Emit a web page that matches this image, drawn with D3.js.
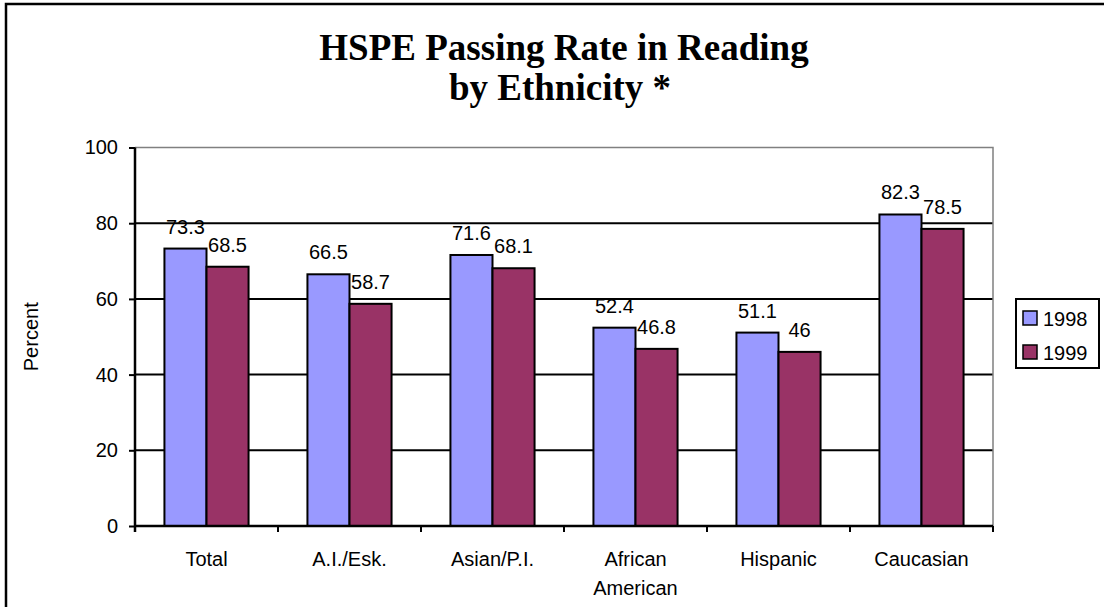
<!DOCTYPE html>
<html>
<head>
<meta charset="utf-8">
<script src="https://cdn.jsdelivr.net/npm/d3@7"></script>
<style>
  html, body { margin: 0; padding: 0; background: #fff; }
  svg { display: block; }
</style>
</head>
<body>
<div id="chart"></div>
<script>
// Données
const categories = ["Total", "A.I./Esk.", "Asian/P.I.", "African\nAmerican", "Hispanic", "Caucasian"];
const series = ["1998", "1999"];
const values1998 = [73.3, 66.5, 71.6, 52.4, 51.1, 82.3];
const values1999 = [68.5, 58.7, 68.1, 46.8, 46, 78.5];
const yTicks = [0, 20, 40, 60, 80, 100];

const colors = { "1998": "#9999FF", "1999": "#993366" };

const width = 1104;
const height = 607;
const plot = { left: 135, right: 993, top: 147.5, bottom: 526 };

const svg = d3.select("#chart")
  .append("svg")
  .attr("width", width)
  .attr("height", height);

// Cadre extérieur (coupé à droite et en bas)
svg.append("rect")
  .attr("x", 6).attr("y", 4)
  .attr("width", 1200).attr("height", 700)
  .attr("fill", "none")
  .attr("stroke", "#000")
  .attr("stroke-width", 2.5);

// Titre
const title = svg.append("text")
  .attr("text-anchor", "middle")
  .style("font-family", "'Liberation Serif', 'Times New Roman', serif")
  .style("font-weight", "bold")
  .style("font-size", "37px");
title.append("tspan").attr("x", 564).attr("y", 60).text("HSPE Passing Rate in Reading");
title.append("tspan").attr("x", 560).attr("y", 100).text("by Ethnicity *");

// Échelles
const x = d3.scaleBand()
  .domain(categories)
  .range([plot.left, plot.right])
  .padding(0);

const xs = d3.scaleBand()
  .domain(series)
  .range([0, x.bandwidth()])
  .paddingInner(0)
  .paddingOuter(0.7);

const y = d3.scaleLinear()
  .domain([0, 100])
  .range([plot.bottom, plot.top]);

// Quadrillage
svg.append("g")
  .selectAll("line")
  .data(yTicks.filter(d => d > 0 && d < 100))
  .join("line")
  .attr("x1", plot.left).attr("x2", plot.right)
  .attr("y1", d => y(d)).attr("y2", d => y(d))
  .attr("stroke", "#000")
  .attr("stroke-width", 2);

// Bordure de la zone de tracé (haut + droite, gris)
svg.append("path")
  .attr("d", `M${plot.left},${y(100)}H${plot.right}V${plot.bottom}`)
  .attr("fill", "none")
  .attr("stroke", "#808080")
  .attr("stroke-width", 1.5);

// Barres
const rows = categories.map((c, i) => ({
  cat: c,
  vals: [
    { s: "1998", v: values1998[i] },
    { s: "1999", v: values1999[i] }
  ]
}));

const groups = svg.append("g")
  .selectAll("g")
  .data(rows)
  .join("g")
  .attr("transform", d => `translate(${x(d.cat)},0)`);

groups.selectAll("rect")
  .data(d => d.vals)
  .join("rect")
  .attr("x", d => xs(d.s))
  .attr("width", xs.bandwidth())
  .attr("y", d => y(d.v))
  .attr("height", d => y(0) - y(d.v))
  .attr("fill", d => colors[d.s])
  .attr("stroke", "#000")
  .attr("stroke-width", 2);

// Étiquettes de valeurs
groups.selectAll("text")
  .data(d => d.vals)
  .join("text")
  .attr("x", d => xs(d.s) + xs.bandwidth() / 2)
  .attr("y", d => y(d.v) - 15)
  .attr("text-anchor", "middle")
  .style("font-family", "'Liberation Sans', Arial, sans-serif")
  .style("font-size", "20px")
  .style("fill", "#000")
  .text(d => String(d.v));

// Axe Y
const yAxis = svg.append("g")
  .attr("transform", `translate(${plot.left},0)`)
  .call(d3.axisLeft(y).tickValues(yTicks).tickSize(6).tickPadding(11).tickSizeOuter(0));
yAxis.select(".domain")
  .attr("d", `M0,${plot.top}V${plot.bottom + 6}`)
  .attr("stroke", "#000")
  .attr("stroke-width", 2.5);
yAxis.selectAll(".tick line").attr("stroke", "#000").attr("stroke-width", 2);
yAxis.selectAll(".tick text")
  .style("font-family", "'Liberation Sans', Arial, sans-serif")
  .style("font-size", "20px")
  .attr("fill", "#000");

// Axe X : ligne, graduations aux limites des catégories
svg.append("line")
  .attr("x1", plot.left).attr("x2", plot.right)
  .attr("y1", plot.bottom).attr("y2", plot.bottom)
  .attr("stroke", "#000")
  .attr("stroke-width", 2.5);

const boundaries = categories.map(c => x(c)).concat([plot.right]);
svg.append("g")
  .selectAll("line")
  .data(boundaries)
  .join("line")
  .attr("x1", d => d).attr("x2", d => d)
  .attr("y1", plot.bottom).attr("y2", plot.bottom + 6)
  .attr("stroke", "#000")
  .attr("stroke-width", 2);

// Libellés des catégories
const xLabels = svg.append("g")
  .selectAll("text")
  .data(categories)
  .join("text")
  .attr("text-anchor", "middle")
  .style("font-family", "'Liberation Sans', Arial, sans-serif")
  .style("font-size", "20px")
  .attr("fill", "#000");

xLabels.selectAll("tspan")
  .data(d => d.split("\n").map(line => ({ line, cat: d })))
  .join("tspan")
  .attr("x", d => x(d.cat) + x.bandwidth() / 2)
  .attr("y", (d, i) => plot.bottom + 40 + i * 28.5)
  .text(d => d.line);

// Titre de l'axe Y
svg.append("text")
  .attr("transform", `translate(38,${(plot.top + plot.bottom) / 2}) rotate(-90)`)
  .attr("text-anchor", "middle")
  .style("font-family", "'Liberation Sans', Arial, sans-serif")
  .style("font-size", "20px")
  .attr("fill", "#000")
  .text("Percent");

// Légende
const legend = svg.append("g").attr("transform", "translate(1016,299)");
legend.append("rect")
  .attr("width", 83).attr("height", 69)
  .attr("fill", "#fff")
  .attr("stroke", "#000")
  .attr("stroke-width", 2);

const items = legend.selectAll("g.item")
  .data(series)
  .join("g")
  .attr("class", "item")
  .attr("transform", (d, i) => `translate(7,${12 + i * 34})`);

items.append("rect")
  .attr("width", 14).attr("height", 14)
  .attr("fill", d => colors[d])
  .attr("stroke", "#000")
  .attr("stroke-width", 1.5);

items.append("text")
  .attr("x", 20)
  .attr("y", 15)
  .style("font-family", "'Liberation Sans', Arial, sans-serif")
  .style("font-size", "20px")
  .attr("fill", "#000")
  .text(d => d);
</script>
</body>
</html>
